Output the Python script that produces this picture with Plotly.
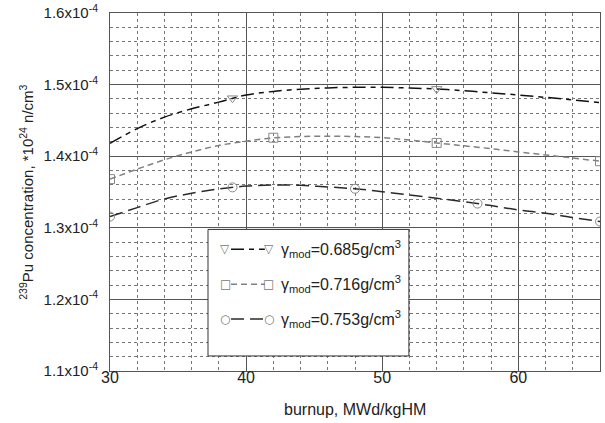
import plotly.graph_objects as go

# burnup grid (MWd/kgHM)
burnup = [30, 32, 34, 36, 38, 40, 42, 44, 46, 48, 50, 52, 54, 56, 58, 60, 62, 64, 66]
# 239Pu concentration, units of 1e-4 (x1e24 n/cm3)
pu_685 = [1.418, 1.4385, 1.4546, 1.4662, 1.4755, 1.4855, 1.4905, 1.4935, 1.4954, 1.4962, 1.4962,
          1.4952, 1.4938, 1.4915, 1.4885, 1.4855, 1.4822, 1.4785, 1.4750]
pu_716 = [1.368, 1.382, 1.395, 1.406, 1.415, 1.421, 1.4255, 1.4275, 1.428, 1.4275, 1.426,
          1.4225, 1.4185, 1.4145, 1.4105, 1.406, 1.4018, 1.3975, 1.393]
pu_753 = [1.3157, 1.3282, 1.3403, 1.3482, 1.3542, 1.3583, 1.3597, 1.3593, 1.3570, 1.3545, 1.3504,
          1.3458, 1.3412, 1.3365, 1.3310, 1.3250, 1.3204, 1.3143, 1.3088]

# marker positions
mk_685_x = [39, 54]
mk_685_y = [1.481, 1.494]
mk_716_x = [30, 42, 54, 66]
mk_716_y = [1.368, 1.4258, 1.4185, 1.393]
mk_753_x = [30, 39, 48, 57, 66]
mk_753_y = [1.3157, 1.3565, 1.3545, 1.3338, 1.3088]

labels = ["γ<sub>mod</sub>=0.685g/cm<sup>3</sup>",
          "γ<sub>mod</sub>=0.716g/cm<sup>3</sup>",
          "γ<sub>mod</sub>=0.753g/cm<sup>3</sup>"]

y_ticks = [1.1, 1.2, 1.3, 1.4, 1.5, 1.6]
y_ticktext = ["%.1fx10<sup>-4</sup>" % v for v in y_ticks]
x_ticks = [30, 40, 50, 60]
x_title = "burnup, MWd/kgHM"
y_title = "<sup>239</sup>Pu concentration, *10<sup>24</sup> n/cm<sup>3</sup>"

S = 1e-4
FONT = "Liberation Sans, Arial, sans-serif"
TXT = "#222222"

series = [
    (pu_685, "#111111", "13px,5px,5px,5px", mk_685_x, mk_685_y, "triangle-down-open"),
    (pu_716, "#808080", "6px,4px", mk_716_x, mk_716_y, "square-open"),
    (pu_753, "#2a2a2a", "13px,6px", mk_753_x, mk_753_y, "circle-open"),
]

fig = go.Figure()
for vals, col, dash, mx, my, sym in series:
    fig.add_trace(go.Scatter(x=burnup, y=[v * S for v in vals], mode="lines",
                             line=dict(color=col, width=1.5, dash=dash, shape="spline"),
                             showlegend=False, hoverinfo="skip"))
    fig.add_trace(go.Scatter(x=mx, y=[v * S for v in my], mode="markers",
                             marker=dict(symbol=sym, size=9, color="#888888",
                                         line=dict(width=1, color="#888888")),
                             showlegend=False, cliponaxis=True))

fig.update_xaxes(range=[30, 66], tickvals=x_ticks, ticks="", showline=True, mirror=True,
                 linecolor="#555555", linewidth=1, showgrid=True, gridcolor="#555555", gridwidth=1,
                 minor=dict(dtick=2, tick0=30, showgrid=True, gridcolor="#777777", griddash="dot", gridwidth=1),
                 zeroline=False, automargin=False, ticklabelstandoff=-8,
                 tickfont=dict(size=16, color=TXT, family=FONT))
fig.update_yaxes(range=[1.1 * S, 1.6 * S], tickvals=[v * S for v in y_ticks], ticktext=y_ticktext,
                 ticks="", showline=True, mirror=True, linecolor="#555555", linewidth=1,
                 showgrid=True, gridcolor="#555555", gridwidth=1,
                 minor=dict(dtick=0.02 * S, tick0=1.1 * S, showgrid=True, gridcolor="#777777", griddash="dot", gridwidth=1),
                 zeroline=False, automargin=False, ticklabelstandoff=8,
                 tickfont=dict(size=15, color=TXT, family=FONT))

# custom legend box
shapes = [dict(type="rect", xref="paper", yref="paper", x0=0.2, x1=0.61, y0=0.042, y1=0.3955,
               line=dict(color="#333333", width=1), fillcolor="white", layer="above")]
annotations = [
    dict(x=0.5, y=-0.108, xref="paper", yref="paper", text=x_title, showarrow=False,
         font=dict(size=16, color=TXT, family=FONT), xanchor="center", yanchor="middle"),
    dict(x=-0.172, y=0.5, xref="paper", yref="paper", text=y_title, showarrow=False, textangle=-90,
         font=dict(size=15, color=TXT, family=FONT), xanchor="center", yanchor="middle"),
]
rows = [0.34, 0.242, 0.145]
sym_chars = ["▽", "□", "○"]
for i, (vals, col, dash, mx, my, sym) in enumerate(series):
    yr = rows[i]
    shapes.append(dict(type="line", xref="paper", yref="paper", x0=0.247, x1=0.316, y0=yr, y1=yr,
                       line=dict(color=col, width=1.5, dash=dash), layer="above"))
    for xp in (0.235, 0.324):
        annotations.append(dict(x=xp, y=yr, xref="paper", yref="paper", text=sym_chars[i],
                                showarrow=False, font=dict(size=12, color="#777777", family="DejaVu Sans"),
                                xanchor="center", yanchor="middle"))
    annotations.append(dict(x=0.345, y=yr, xref="paper", yref="paper", text=labels[i],
                            showarrow=False, font=dict(size=16, color=TXT, family=FONT),
                            xanchor="left", yanchor="middle"))

fig.update_layout(width=605, height=423, margin=dict(l=110, r=5, t=13, b=52),
                  plot_bgcolor="white", paper_bgcolor="white",
                  shapes=shapes, annotations=annotations, showlegend=False,
                  font=dict(family=FONT))

fig.write_html("out.html", config={"displayModeBar": False},
               post_script="document.body.style.margin='0';document.body.style.padding='0';")
